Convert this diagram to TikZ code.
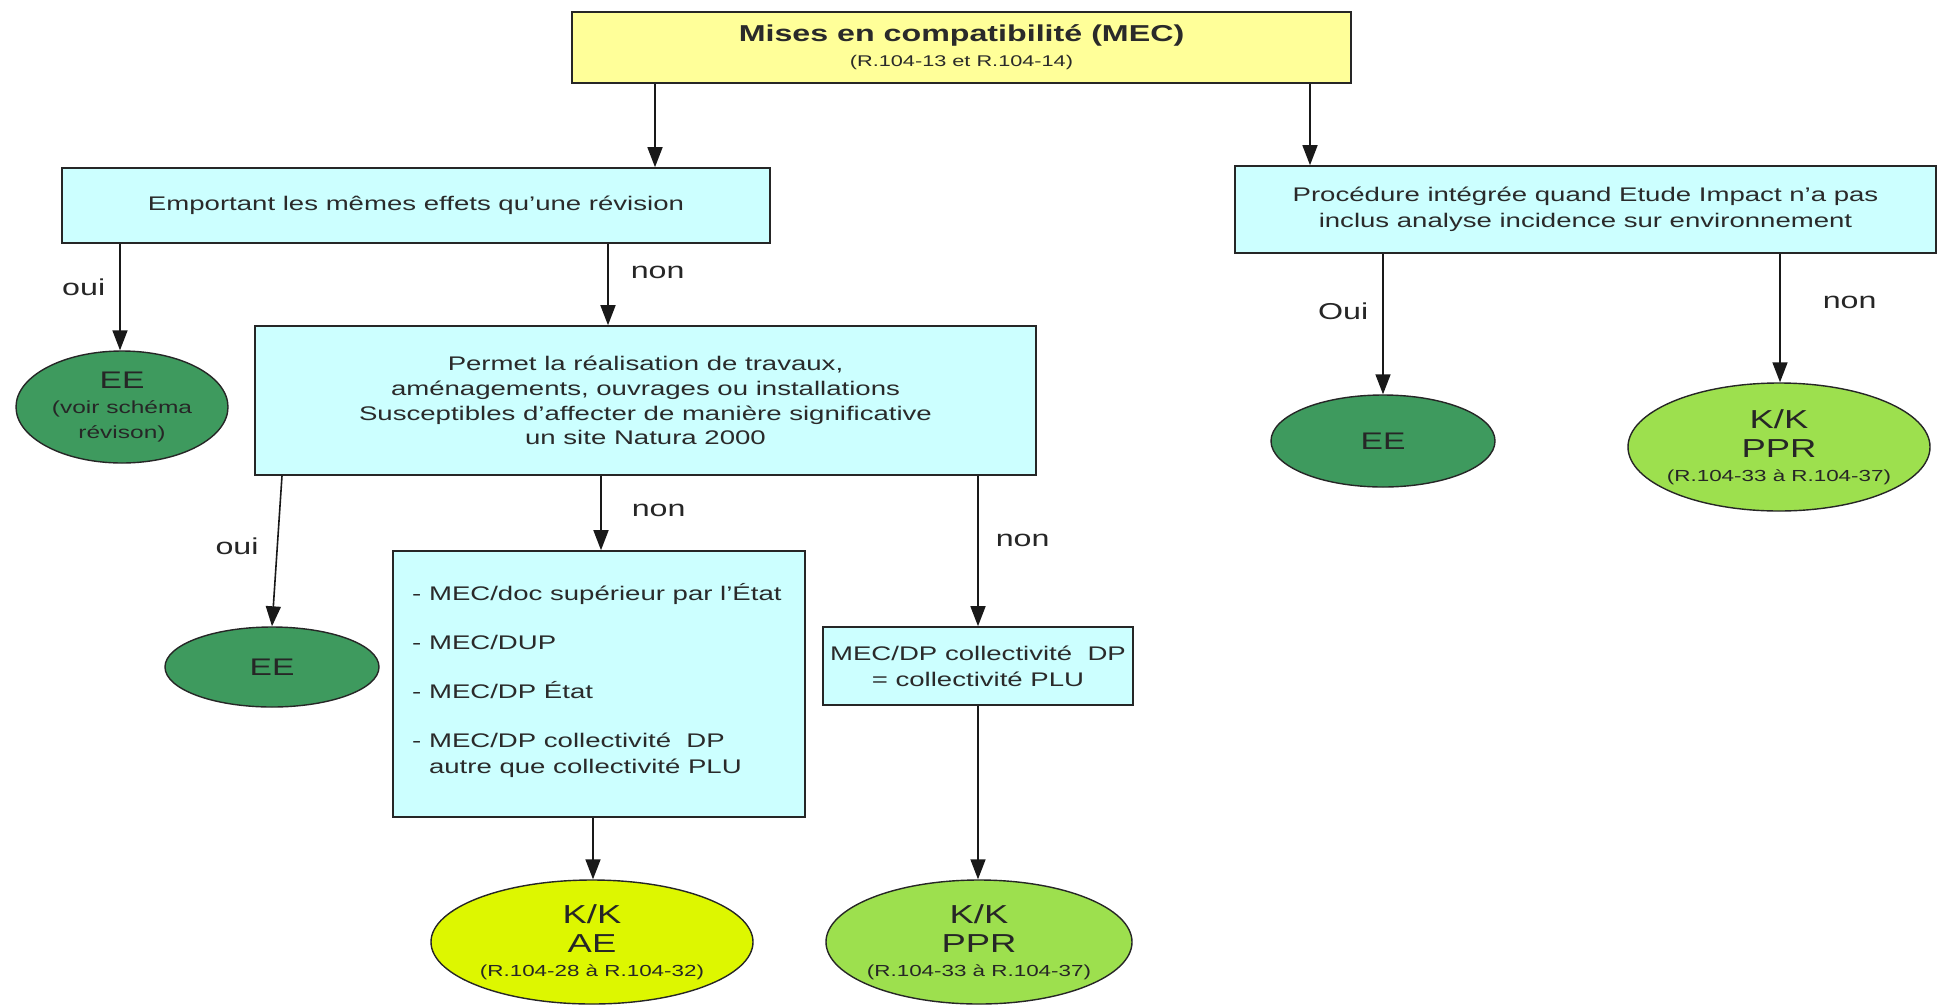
\documentclass[tikz,border=0pt]{standalone}
\usepackage{fontspec}
\setmainfont{Liberation Sans}[FakeStretch=1.4]
\usetikzlibrary{shapes.geometric,arrows.meta}
\definecolor{boxcyan}{HTML}{CCFFFF}
\definecolor{boxyellow}{HTML}{FFFF99}
\definecolor{darkgreen}{HTML}{3E9A5E}
\definecolor{lightgreen}{HTML}{9DE04E}
\definecolor{yellowgreen}{HTML}{DDF700}
\definecolor{txt}{HTML}{2A2A2A}
\begin{document}
\begin{tikzpicture}[x=1pt,y=-1pt,
  box/.style={draw=black!85, line width=1.6pt, fill=boxcyan, inner sep=0pt, align=center, text=txt,
    font=\fontsize{19.7}{26}\selectfont},
  oval/.style={draw=black!85, line width=1.4pt, ellipse, inner sep=0pt, align=center, text=black!85},
  arr/.style={draw=black!90, line width=1.6pt, -{Triangle[length=20pt,width=15pt]}},
  lbl/.style={font=\fontsize{23}{26}\selectfont, text=black!85, inner sep=0pt},
  kk/.style={font=\fontsize{26}{29}\selectfont, inner xsep=-8pt}
]
\useasboundingbox (0,0) rectangle (1938,1007);
\fill[white] (0,0) rectangle (1938,1007);

% boxes
\node[box, fill=boxyellow, minimum width=779pt, minimum height=71pt, font=\fontsize{15.5}{25}\selectfont] (top) at (961.5,47.5)
  {{\fontsize{23}{25}\selectfont\bfseries Mises en compatibilité (MEC)}\\(R.104-13 et R.104-14)};
\node[box, minimum width=708pt, minimum height=75pt] (emp) at (416,205.5)
  {Emportant les mêmes effets qu’une révision};
\node[box, minimum width=701pt, minimum height=87pt] (proc) at (1585.5,209.5)
  {Procédure intégrée quand Etude Impact n’a pas\\inclus analyse incidence sur environnement};
\node[box, minimum width=781pt, minimum height=149pt, font=\fontsize{19.7}{24.7}\selectfont] (perm) at (645.5,400.5)
  {Permet la réalisation de travaux,\\aménagements, ouvrages ou installations\\Susceptibles d’affecter de manière significative\\un site Natura 2000};
\node[box, minimum width=412pt, minimum height=266pt] (list) at (599,684) {};
\node[anchor=north west, inner sep=0pt, align=left, text=txt, font=\fontsize{19.7}{26}\selectfont] (listtxt) at (412,583)
  {- MEC/doc supérieur par l’État\\[23pt]
   - MEC/DUP\\[23pt]
   - MEC/DP État\\[23pt]
   - MEC/DP collectivité\ \ DP\\
   \hphantom{- }autre que collectivité PLU};
\node[box, minimum width=310pt, minimum height=78pt] (mecdp) at (978,666)
  {MEC/DP collectivité\ \ DP\\= collectivité PLU};

% ellipses
\node[oval, fill=darkgreen, minimum width=212pt, minimum height=112pt, font=\fontsize{17.5}{25}\selectfont] (ee1) at (122,407)
  {{\fontsize{24}{25}\selectfont EE}\\(voir schéma\\révison)};
\node[oval, fill=darkgreen, minimum width=214pt, minimum height=80pt, font=\fontsize{24}{26}\selectfont] (ee2) at (272,667)
  {EE};
\node[oval, fill=yellowgreen, minimum width=322pt, minimum height=124pt, kk] (ae) at (592,942)
  {K/K\\AE\\[-5pt]{\fontsize{16}{18}\selectfont (R.104-28 à R.104-32)}};
\node[oval, fill=lightgreen, minimum width=306pt, minimum height=124pt, kk] (ppr1) at (979,942)
  {K/K\\PPR\\[-5pt]{\fontsize{16}{18}\selectfont (R.104-33 à R.104-37)}};
\node[oval, fill=darkgreen, minimum width=224pt, minimum height=92pt, font=\fontsize{24}{26}\selectfont] (ee3) at (1383,441)
  {EE};
\node[oval, fill=lightgreen, minimum width=302pt, minimum height=128pt, kk] (ppr2) at (1779,447)
  {K/K\\PPR\\[-5pt]{\fontsize{16}{18}\selectfont (R.104-33 à R.104-37)}};

% x positions
\coordinate (xa) at (655,0);
\coordinate (xb) at (1310,0);
\coordinate (xc) at (120,0);
\coordinate (xd) at (608,0);
\coordinate (xe) at (282,0);
\coordinate (xf) at (601,0);
\coordinate (xg) at (978,0);
\coordinate (xh) at (593,0);
\coordinate (xi) at (1383,0);
\coordinate (xj) at (1780,0);

% connectors
\draw[arr] (top.south -| xa) -- (emp.north -| xa);
\draw[arr] (top.south -| xb) -- (proc.north -| xb);
\draw[arr] (emp.south -| xc) -- node[lbl, pos=0.41, anchor=east, xshift=-14pt] {oui} (ee1.north -| xc);
\draw[arr] (emp.south -| xd) -- node[lbl, pos=0.35, anchor=west, xshift=22pt] {non} (perm.north -| xd);
\draw[arr] (perm.south -| xe) -- node[lbl, pos=0.47, anchor=east, xshift=-18pt] {oui} (ee2.north);
\draw[arr] (perm.south -| xf) -- node[lbl, pos=0.46, anchor=west, xshift=30pt] {non} (list.north -| xf);
\draw[arr] (perm.south -| xg) -- node[lbl, pos=0.43, anchor=west, xshift=17pt] {non} (mecdp.north -| xg);
\draw[arr] (list.south -| xh) -- (ae.north -| xh);
\draw[arr] (mecdp.south -| xg) -- (ppr1.north -| xg);
\draw[arr] (proc.south -| xi) -- node[lbl, pos=0.41, anchor=east, xshift=-14pt] {Oui} (ee3.north -| xi);
\draw[arr] (proc.south -| xj) -- node[lbl, pos=0.38, anchor=west, xshift=42pt] {non} (ppr2.north -| xj);
\end{tikzpicture}
\end{document}
